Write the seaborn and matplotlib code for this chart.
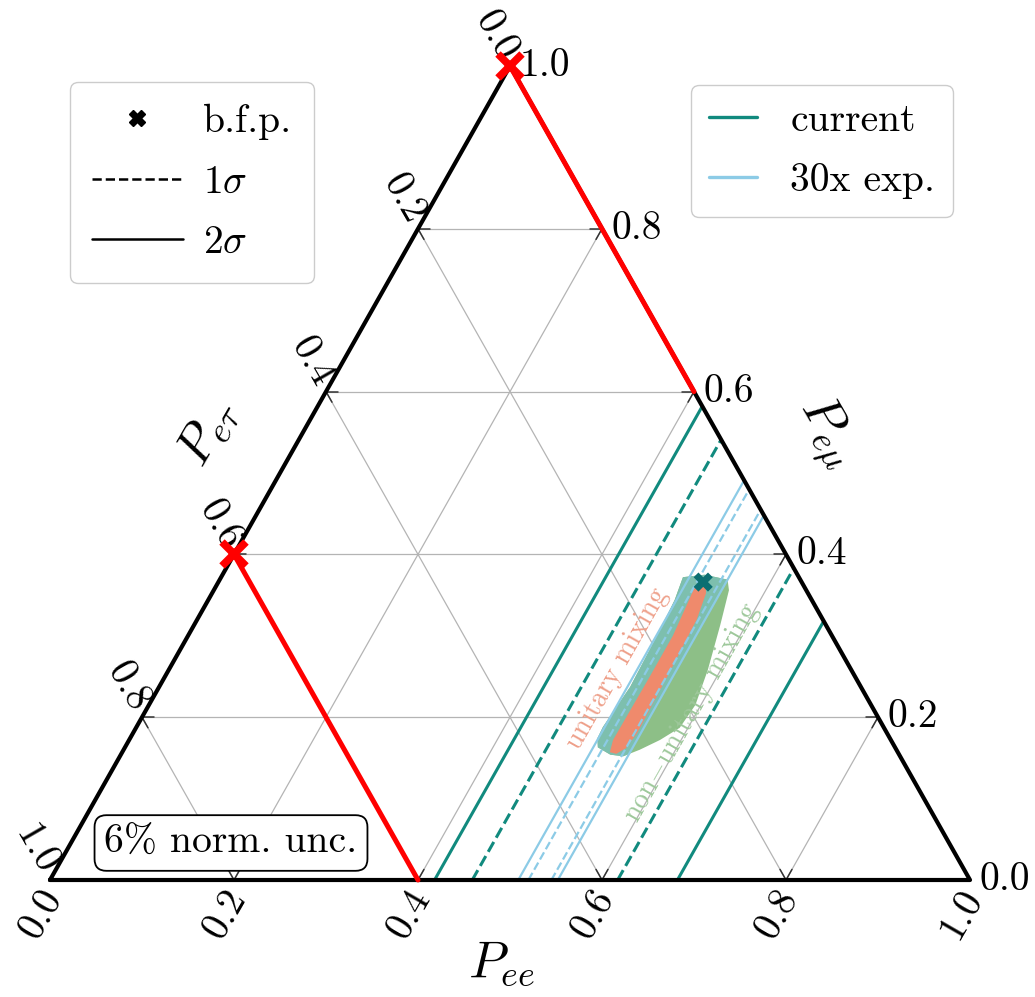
import numpy as np
import matplotlib
matplotlib.use("Agg")
import matplotlib.pyplot as plt
import seaborn as sns
from matplotlib.lines import Line2D

# ---------------- data ----------------
tick_values = [0.0, 0.2, 0.4, 0.6, 0.8, 1.0]
tick_labels = ["0.0", "0.2", "0.4", "0.6", "0.8", "1.0"]
grid_values = [0.2, 0.4, 0.6, 0.8]

# P_ee bounds (lower, upper) for the present data and a 30x exposure
current_1sigma = [0.459, 0.617]
current_2sigma = [0.418, 0.682]
future_1sigma = [0.520, 0.545]
future_2sigma = [0.509, 0.552]

# best-fit point
bfp_pee = 0.527
bfp_pemu = 0.366

# allowed region with non-unitary mixing, vertices (P_ee, P_emu)
nonunitary_pee = [0.502, 0.524, 0.552, 0.560, 0.572, 0.586, 0.594, 0.591, 0.577,
                  0.561, 0.547, 0.532, 0.514, 0.508, 0.507, 0.512, 0.510, 0.507]
nonunitary_pemu = [0.372, 0.375, 0.369, 0.356, 0.313, 0.258, 0.215, 0.187, 0.172,
                   0.160, 0.152, 0.154, 0.163, 0.174, 0.188, 0.237, 0.295, 0.344]

# allowed region with unitary mixing
unitary_pee = [0.523, 0.531, 0.537, 0.543, 0.546, 0.548, 0.545, 0.538, 0.530,
               0.526, 0.527, 0.527, 0.523, 0.521]
unitary_pemu = [0.366, 0.364, 0.352, 0.320, 0.250, 0.180, 0.162, 0.155, 0.157,
                0.172, 0.250, 0.300, 0.340, 0.358]

# unitarity boundaries
edge_bound_pee = [0.0, 0.4]
edge_bound_pemu = [1.0, 0.6]
tau_bound_pee = [0.0, 0.4]
tau_bound_pemu = [0.4, 0.0]
bound_marks_pee = [0.0, 0.0]
bound_marks_pemu = [1.0, 0.4]

# ---------------- style ----------------
sns.set_theme(style="white")
plt.rcParams["font.family"] = ["cmr10", "DejaVu Serif"]
plt.rcParams["mathtext.fontset"] = "cm"
plt.rcParams["axes.formatter.use_mathtext"] = True
plt.rcParams["text.color"] = "black"

TEAL = "#118a7e"
SKY = "#8ccbe6"
GREEN = "#8dbf87"
TEALGREEN = "#7dbfae"
SALMON = "#ef8a6c"
GRID = "#b4b4b4"

W, H = 1035, 997
fig = plt.figure(figsize=(W / 100, H / 100), dpi=100)
ax = fig.add_axes([50 / W, 117 / H, 920 / W, 814 / H])
ax.set_xlim(0, 1)
ax.set_ylim(0, 1)
ax.axis("off")


def to_xy(pee, pemu):
    pee = np.asarray(pee, float)
    pemu = np.asarray(pemu, float)
    return pee + pemu / 2.0, pemu


def tline(pee, pemu, **kw):
    x, y = to_xy(pee, pemu)
    sns.lineplot(x=x, y=y, sort=False, estimator=None, ax=ax, legend=False, **kw)


# grid lines of the simplex
for v in grid_values:
    tline([0, 1 - v], [v, v], color=GRID, lw=0.9, zorder=1)          # constant P_emu
    tline([v, v], [0, 1 - v], color=GRID, lw=0.9, zorder=1)          # constant P_ee
    tline([1 - v, 0], [0, 1 - v], color=GRID, lw=0.9, zorder=1)      # constant P_etau

# short tick strokes where grid lines meet the edges
L = 0.013
for v in grid_values:
    tline([v, v], [0, L], color="#333333", lw=1.1, zorder=2)
    tline([v, v - L], [0, L], color="#333333", lw=1.1, zorder=2)
    tline([1 - v, 1 - v - L], [v, v], color="#333333", lw=1.1, zorder=2)
    tline([1 - v, 1 - v], [v, v - L], color="#333333", lw=1.1, zorder=2)
    tline([0, L], [v, v], color="#333333", lw=1.1, zorder=2)
    tline([0, L], [v, v - L], color="#333333", lw=1.1, zorder=2)

# allowed regions
bx, by = to_xy(nonunitary_pee, nonunitary_pemu)
blob = ax.fill(bx, by, color=GREEN, lw=0, zorder=3)[0]
band_x, band_y = to_xy([0.40, future_2sigma[1], future_2sigma[1], 0.40],
                       [0.0, 0.0, 1 - future_2sigma[1], 0.6])
band = ax.fill(band_x, band_y, color=TEALGREEN, lw=0, zorder=3.5)[0]
band.set_clip_path(blob)
ux, uy = to_xy(unitary_pee, unitary_pemu)
ax.fill(ux, uy, color=SALMON, lw=0, zorder=4)

# P_ee constraint lines
for lo_hi, col, ls, lw in [(current_2sigma, TEAL, "-", 2.2),
                           (current_1sigma, TEAL, "--", 2.2),
                           (future_2sigma, SKY, "-", 1.6),
                           (future_1sigma, SKY, "--", 1.6)]:
    for v in lo_hi:
        tline([v, v], [0, 1 - v], color=col, lw=lw, linestyle=ls, zorder=5)

# best-fit point
px, py = to_xy([bfp_pee], [bfp_pemu])
sns.scatterplot(x=px, y=py, marker="X", s=190, color="#0b6f72", edgecolor="none",
                ax=ax, zorder=7, legend=False)

# triangle outline
tline([0, 1, 0, 0], [0, 0, 1, 0], color="black", lw=3.0, zorder=6)

# unitarity boundaries
tline(edge_bound_pee, edge_bound_pemu, color="#ff0000", lw=3.6, zorder=8)
tline(tau_bound_pee, tau_bound_pemu, color="#ff0000", lw=3.6, zorder=8)
mx, my = to_xy(bound_marks_pee, bound_marks_pemu)
ax.plot(mx, my, ls="none", marker="x", ms=17, mew=5.5, color="#ff0000",
        zorder=9, clip_on=False)
for line in ax.lines:
    line.set_clip_on(False)

# region labels
fig.text(617 / W, 1 - 669 / H, "unitary mixing", rotation=60.5, ha="center",
         va="center", fontsize=20, color="#eea08a", rotation_mode="anchor")
fig.text(692 / W, 1 - 713 / H, r"non$-$unitary mixing", rotation=60.5, ha="center",
         va="center", fontsize=20, color="#9ec89b", rotation_mode="anchor")

# tick labels
FS = 28.5
for v, lab in zip(tick_values, tick_labels):
    # bottom axis: P_ee
    x, y = to_xy(v, 0)
    ax.annotate(lab, xy=(x, y), xytext=(4, -12), textcoords="offset pixels",
                rotation=60, ha="right", va="center", rotation_mode="anchor",
                fontsize=FS)
    # right axis: P_emu
    x, y = to_xy(1 - v, v)
    ax.annotate(lab, xy=(x, y), xytext=(10, 0), textcoords="offset pixels",
                ha="left", va="center", fontsize=FS)
    # left axis: P_etau
    x, y = to_xy(0, 1 - v)
    ax.annotate(lab, xy=(x, y), xytext=(-2, 8), textcoords="offset pixels",
                rotation=-60, ha="right", va="center", rotation_mode="anchor",
                fontsize=FS)

# axis titles
fig.text(502 / W, 1 - 964 / H, r"$P_{ee}$", ha="center", va="center", fontsize=37)
fig.text(826 / W, 1 - 432 / H, r"$P_{e\mu}$", ha="center", va="center",
         fontsize=37, rotation=-60)
fig.text(208 / W, 1 - 432 / H, r"$P_{e\tau}$", ha="center", va="center",
         fontsize=37, rotation=60)

# normalisation note
fig.text(231 / W, 1 - 843 / H, "6% norm. unc.", ha="center", va="center",
         fontsize=FS,
         bbox=dict(boxstyle="round,pad=0.25,rounding_size=0.3", fc="white",
                   ec="black", lw=1.3))

# legends
h1 = [Line2D([], [], ls="none", marker="X", ms=11, color="black"),
      Line2D([], [], ls="--", lw=1.8, color="black"),
      Line2D([], [], ls="-", lw=1.8, color="black")]
fig.legend(h1, ["b.f.p.", r"$1\sigma$", r"$2\sigma$"], loc="upper left",
           bbox_to_anchor=(70 / W, 1 - 82 / H), borderaxespad=0, fontsize=FS,
           handlelength=2.3, handletextpad=0.5, labelspacing=0.62, borderpad=0.55,
           edgecolor="#cccccc", framealpha=1, labelcolor="black")
h2 = [Line2D([], [], ls="-", lw=2.4, color=TEAL),
      Line2D([], [], ls="-", lw=2.4, color=SKY)]
fig.legend(h2, ["current", "30x exp."], loc="upper right",
           bbox_to_anchor=(953 / W, 1 - 85 / H), borderaxespad=0, fontsize=FS,
           handlelength=1.2, handletextpad=0.85, labelspacing=0.62, borderpad=0.45,
           edgecolor="#cccccc", framealpha=1, labelcolor="black")

fig.savefig("out.png", dpi=100)
